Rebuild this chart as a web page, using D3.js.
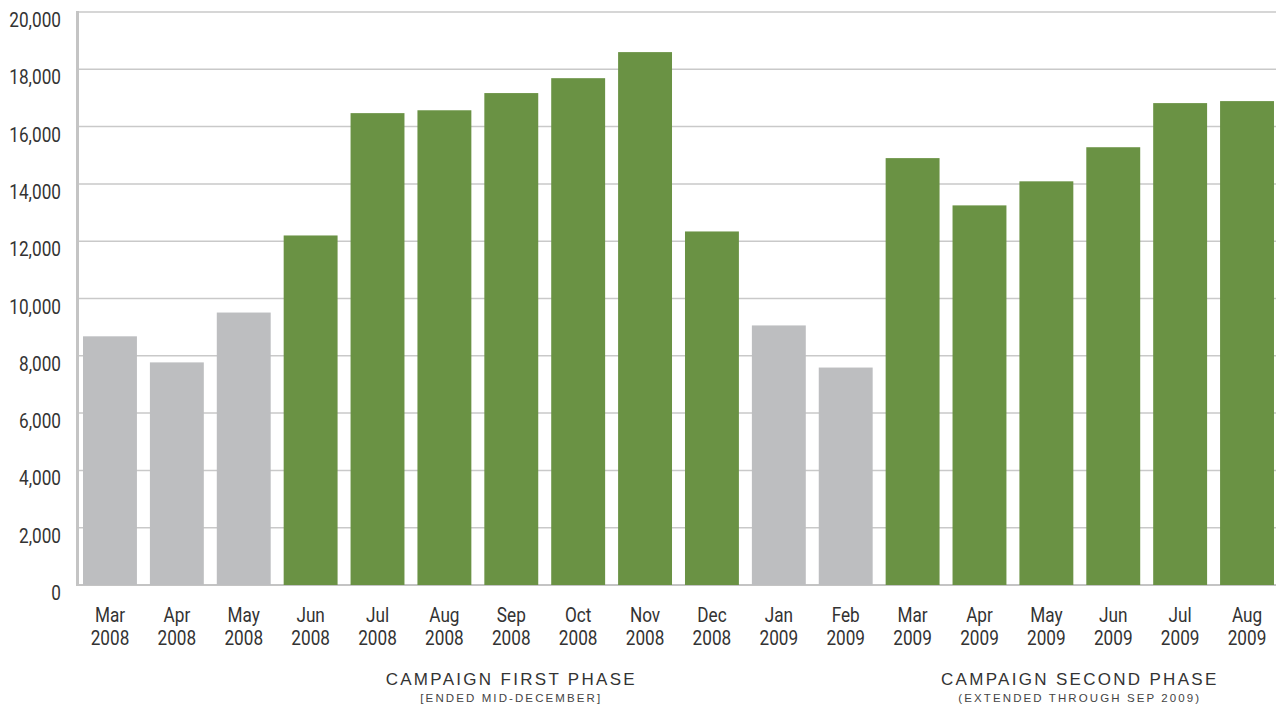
<!DOCTYPE html>
<html>
<head>
<meta charset="utf-8">
<script src="https://cdn.jsdelivr.net/npm/d3@7"></script>
<style>
    body { margin: 0; background: #fff; }
    svg { display: block; }
</style>
</head>
<body>
<div class="chart"></div>
<script>
// data
const months = ["Mar", "Apr", "May", "Jun", "Jul", "Aug", "Sep", "Oct", "Nov", "Dec",
    "Jan", "Feb", "Mar", "Apr", "May", "Jun", "Jul", "Aug"];
const years = ["2008", "2008", "2008", "2008", "2008", "2008", "2008", "2008", "2008", "2008",
    "2009", "2009", "2009", "2009", "2009", "2009", "2009", "2009"];
const values = [8680, 7770, 9510, 12200, 16470, 16570, 17170, 17690, 18600, 12340,
    9060, 7590, 14900, 13250, 14090, 15280, 16820, 16890];
const inCampaign = [false, false, false, true, true, true, true, true, true, true,
    false, false, true, true, true, true, true, true];
const yTicks = [0, 2000, 4000, 6000, 8000, 10000, 12000, 14000, 16000, 18000, 20000];
const phases = [
    { title: "CAMPAIGN FIRST PHASE", note: "[ENDED MID-DECEMBER]", from: 3, to: 9 },
    { title: "CAMPAIGN SECOND PHASE", note: "(EXTENDED THROUGH SEP 2009)", from: 12, to: 17 }
];

const W = 1276, H = 707;
const margin = { top: 12, right: 0, bottom: 123, left: 78 };
const font = "Roboto, sans-serif";
const squeeze = 0.86; // condensed look

const svg = d3.select(".chart").append("svg")
    .attr("width", W)
    .attr("height", H);

const keys = values.map((v, i) => i);

const x = d3.scaleBand()
    .domain(keys)
    .range([margin.left, 1279])
    .paddingInner(0.194)
    .paddingOuter(0.075);

const y = d3.scaleLinear()
    .domain([0, 20000])
    .range([H - margin.bottom + 1, margin.top]);

// gridlines
svg.append("g")
    .selectAll("line")
    .data(yTicks.filter(t => t > 0))
    .enter()
    .append("line")
    .attr("x1", margin.left)
    .attr("x2", W)
    .attr("y1", d => y(d))
    .attr("y2", d => y(d))
    .attr("stroke", "#c9c9c9")
    .attr("stroke-width", 1.5);

// baseline + left axis line
svg.append("line")
    .attr("x1", margin.left)
    .attr("x2", W)
    .attr("y1", y(0))
    .attr("y2", y(0))
    .attr("stroke", "#c4c4c4")
    .attr("stroke-width", 2);

svg.append("line")
    .attr("x1", margin.left - 0.5)
    .attr("x2", margin.left - 0.5)
    .attr("y1", y(20000) - 1)
    .attr("y2", y(0) + 1)
    .attr("stroke", "#c4c4c4")
    .attr("stroke-width", 3);

// bars
svg.append("g")
    .selectAll("rect")
    .data(keys)
    .enter()
    .append("rect")
    .attr("x", i => x(i))
    .attr("y", i => y(values[i]))
    .attr("width", x.bandwidth())
    .attr("height", i => y(0) - y(values[i]))
    .attr("fill", i => inCampaign[i] ? "#6a9244" : "#bdbec0");

// y tick labels
svg.append("g")
    .selectAll("text")
    .data(yTicks)
    .enter()
    .append("text")
    .attr("transform", d => "translate(61," + (y(d) + 8) + ") scale(" + squeeze + ",1)")
    .attr("dy", "0.35em")
    .attr("text-anchor", "end")
    .style("font-family", font)
    .style("font-size", "20px")
    .style("fill", "#333")
    .text(d => d3.format(",")(d));

// x labels, two lines
const xl = svg.append("g")
    .selectAll("text")
    .data(keys)
    .enter()
    .append("text")
    .attr("transform", i => "translate(" + (x(i) + x.bandwidth() / 2) + ",0) scale(" + squeeze + ",1)")
    .attr("text-anchor", "middle")
    .style("font-family", font)
    .style("font-size", "20px")
    .style("fill", "#333");

xl.append("tspan")
    .attr("x", 0)
    .attr("y", 622)
    .text(i => months[i]);

xl.append("tspan")
    .attr("x", 0)
    .attr("y", 645)
    .text(i => years[i]);

// phase captions
const ph = svg.append("g")
    .selectAll("g")
    .data(phases)
    .enter()
    .append("g");

const phaseX = d => (x(d.from) + x(d.to) + x.bandwidth()) / 2;

ph.append("text")
    .attr("x", phaseX)
    .attr("y", 685)
    .attr("text-anchor", "middle")
    .style("font-family", "'Liberation Sans', sans-serif")
    .style("font-size", "17px")
    .style("letter-spacing", "2.3px")
    .style("fill", "#333")
    .text(d => d.title);

ph.append("text")
    .attr("x", phaseX)
    .attr("y", 702)
    .attr("text-anchor", "middle")
    .style("font-family", "'Liberation Sans', sans-serif")
    .style("font-size", "11.5px")
    .style("letter-spacing", "2.1px")
    .style("fill", "#444")
    .text(d => d.note);
</script>
</body>
</html>
